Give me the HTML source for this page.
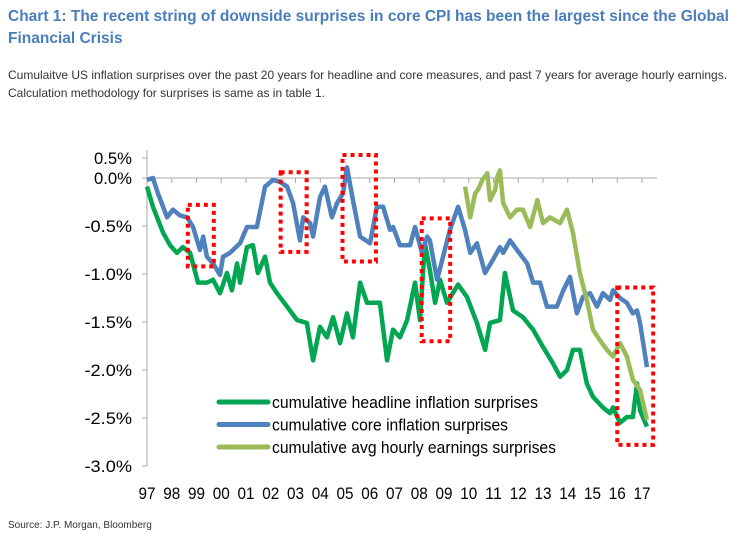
<!DOCTYPE html>
<html><head><meta charset="utf-8"><style>
body{margin:0;background:#fff;width:750px;height:540px;overflow:hidden;font-family:"Liberation Sans",Arial,sans-serif}
#t{position:absolute;left:8px;top:6px;font-size:15.5px;font-weight:bold;color:#4a7ebb;line-height:22px;width:740px}
#s{position:absolute;left:8px;top:66px;font-size:12px;color:#333;line-height:18px}
#src{position:absolute;left:8px;top:520px;font-size:10px;color:#333}
svg{position:absolute;left:0;top:0}
</style></head><body>
<div id="t">Chart 1: The recent string of downside surprises in core CPI has been the largest since the Global Financial Crisis</div>
<div id="s">Cumulaitve US inflation surprises over the past 20 years for headline and core measures, and past 7 years for average hourly earnings.<br>Calculation methodology for surprises is same as in table 1.</div>
<div id="src">Source: J.P. Morgan, Bloomberg</div>
<svg id="c" width="750" height="540"></svg>
<script>
const yTicks=[0.5,0,-0.5,-1,-1.5,-2,-2.5,-3];
const yTickLabels=["0.5%","0.0%","-0.5%","-1.0%","-1.5%","-2.0%","-2.5%","-3.0%"];
const xYears=[1997,1998,1999,2000,2001,2002,2003,2004,2005,2006,2007,2008,2009,2010,2011,2012,2013,2014,2015,2016,2017];
const xTickLabels=["97","98","99","00","01","02","03","04","05","06","07","08","09","10","11","12","13","14","15","16","17"];
const headlineT=[1997.00,1997.24,1997.65,1997.93,1998.21,1998.45,1998.74,1999.06,1999.42,1999.67,1999.95,2000.23,2000.43,2000.64,2000.76,2001.04,2001.28,2001.48,2001.77,2001.97,2002.25,2002.66,2003.06,2003.46,2003.71,2003.99,2004.27,2004.52,2004.80,2005.08,2005.32,2005.61,2005.89,2006.41,2006.70,2006.94,2007.22,2007.51,2007.83,2008.03,2008.23,2008.43,2008.64,2008.84,2009.12,2009.57,2009.93,2010.33,2010.66,2010.86,2011.26,2011.46,2011.79,2012.19,2012.60,2013.00,2013.40,2013.69,2013.97,2014.21,2014.49,2014.77,2015.02,2015.42,2015.71,2015.83,2016.11,2016.39,2016.63,2016.80,2016.92,2017.20];
const headlineV=[-0.09,-0.30,-0.57,-0.70,-0.78,-0.72,-0.78,-1.09,-1.09,-1.06,-1.20,-0.99,-1.17,-0.89,-1.09,-0.72,-0.70,-0.99,-0.82,-1.09,-1.20,-1.34,-1.48,-1.51,-1.90,-1.55,-1.66,-1.45,-1.72,-1.41,-1.66,-1.09,-1.30,-1.30,-1.90,-1.58,-1.66,-1.48,-1.09,-1.48,-0.68,-0.96,-1.30,-1.06,-1.30,-1.11,-1.24,-1.51,-1.79,-1.51,-1.48,-0.99,-1.38,-1.45,-1.58,-1.76,-1.93,-2.07,-2.00,-1.79,-1.79,-2.14,-2.28,-2.39,-2.45,-2.39,-2.55,-2.49,-2.49,-2.14,-2.42,-2.59];
const coreT=[1997.00,1997.24,1997.44,1997.65,1997.81,1998.05,1998.33,1998.62,1998.86,1999.14,1999.27,1999.42,1999.67,1999.95,2000.07,2000.35,2000.76,2001.04,2001.44,2001.77,2002.09,2002.37,2002.66,2002.90,2003.18,2003.31,2003.59,2003.71,2003.99,2004.19,2004.47,2004.68,2004.92,2005.08,2005.32,2005.61,2006.01,2006.29,2006.54,2006.82,2006.94,2007.22,2007.51,2007.63,2007.83,2008.11,2008.32,2008.43,2008.72,2008.96,2009.24,2009.57,2009.85,2010.06,2010.33,2010.66,2010.98,2011.26,2011.39,2011.67,2011.95,2012.36,2012.60,2012.88,2013.16,2013.56,2013.82,2014.09,2014.37,2014.61,2014.90,2015.18,2015.42,2015.71,2015.83,2016.11,2016.39,2016.63,2016.80,2016.92,2017.20];
const coreV=[-0.02,0.00,-0.16,-0.30,-0.41,-0.33,-0.39,-0.41,-0.51,-0.75,-0.61,-0.82,-0.89,-1.01,-0.82,-0.78,-0.68,-0.51,-0.51,-0.09,-0.02,-0.04,-0.09,-0.26,-0.65,-0.41,-0.47,-0.61,-0.20,-0.09,-0.41,-0.26,-0.16,0.11,-0.23,-0.61,-0.68,-0.30,-0.30,-0.54,-0.51,-0.70,-0.70,-0.70,-0.51,-0.78,-0.61,-0.65,-1.06,-0.82,-0.54,-0.30,-0.54,-0.78,-0.68,-0.99,-0.85,-0.72,-0.78,-0.65,-0.75,-0.89,-1.09,-1.09,-1.34,-1.34,-1.17,-1.03,-1.41,-1.24,-1.20,-1.34,-1.20,-1.27,-1.17,-1.25,-1.30,-1.41,-1.38,-1.51,-1.97];
const aheT=[2009.85,2010.06,2010.26,2010.38,2010.55,2010.75,2010.86,2011.07,2011.15,2011.26,2011.39,2011.67,2011.95,2012.19,2012.48,2012.77,2013.00,2013.28,2013.69,2013.97,2014.21,2014.49,2014.77,2015.02,2015.30,2015.58,2015.83,2016.11,2016.39,2016.63,2016.92,2017.20];
const aheV=[-0.09,-0.41,-0.16,-0.12,-0.02,0.05,-0.23,-0.12,0.01,0.08,-0.26,-0.41,-0.33,-0.33,-0.51,-0.23,-0.47,-0.41,-0.47,-0.33,-0.57,-0.99,-1.27,-1.58,-1.69,-1.79,-1.86,-1.72,-1.86,-2.10,-2.21,-2.52];
// highlight boxes: [startYear,endYear,topValue,bottomValue]
const boxT0=[1998.65,2002.4,2004.9,2008.1,2016.0];
const boxT1=[1999.7,2003.45,2006.25,2009.25,2017.45];
const boxV0=[-0.28,0.06,0.24,-0.42,-1.14];
const boxV1=[-0.92,-0.77,-0.87,-1.70,-2.78];

const NS="http://www.w3.org/2000/svg";
const svg=document.getElementById('c');
const X=t=>147+(t-1997)*24.75;
const Y=v=>178-v*96;
function el(tag,attrs,parent){const e=document.createElementNS(NS,tag);for(const k in attrs)e.setAttribute(k,attrs[k]);(parent||svg).appendChild(e);return e;}
const ya=el('line',{x1:147,x2:147,y1:150,y2:Y(-3),stroke:'#aaa','stroke-width':1});


yTicks.forEach((v,i)=>{
  const yy=i===0?158:Y(v);
  const tk=el('line',{x1:142,x2:147,y1:yy,y2:yy,stroke:'#aaa'});
  
  
  const tx=el('text',{x:132,y:yy+6,'text-anchor':'end','font-size':17,fill:'#000',textLength:yTickLabels[i].length*9.5,lengthAdjust:'spacingAndGlyphs'});
  tx.textContent=yTickLabels[i];
  
  
});
const xa=el('line',{x1:147,x2:657,y1:Y(0),y2:Y(0),stroke:'#aaa','stroke-width':1});


xYears.forEach((yr,i)=>{
  const tk=el('line',{x1:X(yr),x2:X(yr),y1:Y(0),y2:Y(0)+5,stroke:'#aaa'});
  
  
  const tx=el('text',{x:X(yr),y:499,'text-anchor':'middle','font-size':17,fill:'#000',textLength:17,lengthAdjust:'spacingAndGlyphs'});
  tx.textContent=xTickLabels[i];
  
  
});
function series(T,V,color,name){
  const p=el('polyline',{points:T.map((t,i)=>X(t)+','+Y(V[i])).join(' '),fill:'none',stroke:color,'stroke-width':4.5,'stroke-linejoin':'round'});
  
  
}
series(headlineT,headlineV,'#00a651','headline-series');
series(coreT,coreV,'#4f81bd','core-series');
series(aheT,aheV,'#9bbb59','avg-hourly-earnings-series');
boxT0.forEach((t,i)=>{
  const r=el('rect',{x:X(t),y:Y(boxV0[i]),width:X(boxT1[i])-X(t),height:Y(boxV1[i])-Y(boxV0[i]),fill:'none',stroke:'#f00','stroke-width':4,'stroke-dasharray':'4 4'});
  
  
});
const leg=[['cumulative headline inflation surprises','#00a651',266],['cumulative core inflation surprises','#4f81bd',236],['cumulative avg hourly earnings surprises','#9bbb59',284]];
leg.forEach((l,i)=>{
  const yy=402+i*22.5;
  const g=el('g',{});
  
  
  el('line',{x1:219,x2:268,y1:yy,y2:yy,stroke:l[1],'stroke-width':5,'stroke-linecap':'round'},g);
  const tx=el('text',{x:272,y:yy+6,'font-size':17,fill:'#000',textLength:l[2],lengthAdjust:'spacingAndGlyphs'},g);
  tx.textContent=l[0];
});
</script>
</body></html>
